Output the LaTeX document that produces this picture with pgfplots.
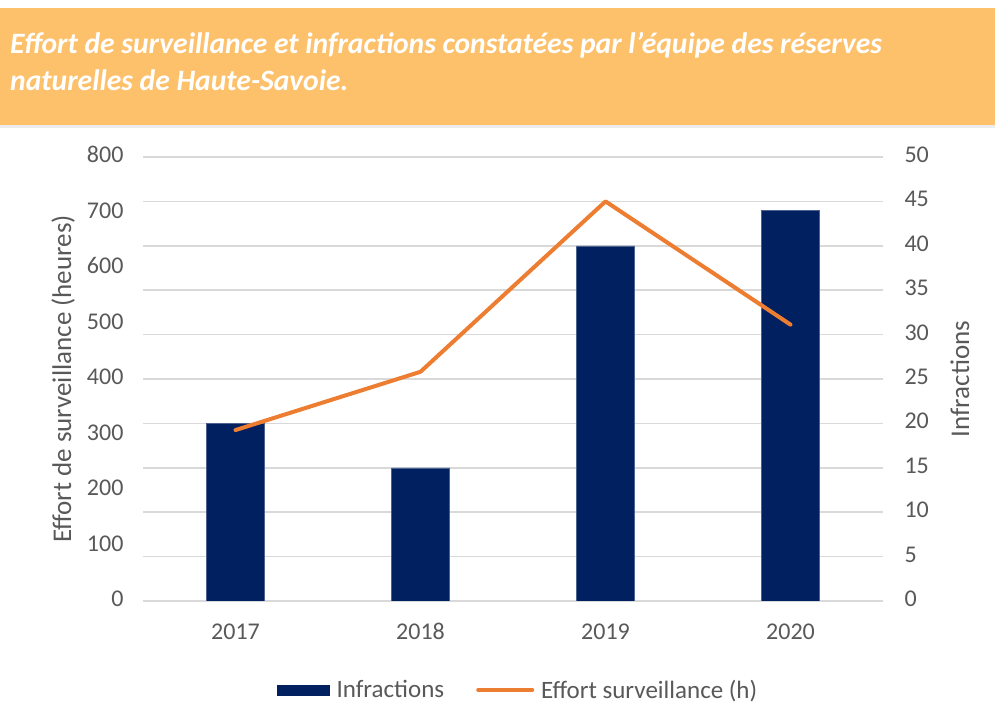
\documentclass[border=0pt]{standalone}
\usepackage{fontspec}
\setmainfont{Carlito}
\usepackage{pgfplots}
\pgfplotsset{compat=1.18}
\definecolor{band}{HTML}{FDC06B}
\definecolor{navy}{HTML}{002060}
\definecolor{lorange}{HTML}{ED7D31}
\definecolor{txt}{HTML}{595959}
\definecolor{gridc}{HTML}{D9D9D9}
\begin{document}
\begin{tikzpicture}[x=1bp,y=1bp]
\fill[white] (0,0) rectangle (995,722);
\fill[gray!15] (0,594) rectangle (995,599);
\fill[band] (0,597) rectangle (995,714);
\node[anchor=base west, inner sep=0pt, text=white, font=\fontsize{29.6bp}{34bp}\selectfont\bfseries\itshape] at (10,668) {Effort de surveillance et infractions constatées par l’équipe des réserves};
\node[anchor=base west, inner sep=0pt, text=white, font=\fontsize{29.6bp}{34bp}\selectfont\bfseries\itshape] at (10,631) {naturelles de Haute-Savoie.};
\pgfplotsset{
  common/.style={
    at={(143bp,121bp)}, anchor=south west,
    scale only axis, width=740bp, height=444bp,
    xmin=-0.5, xmax=3.5,
    xtick={0,1,2,3},
    axis line style={draw=none},
    major tick length=0pt,
    tick label style={font=\fontsize{24bp}{28bp}\selectfont, text=txt},
    typeset ticklabels with strut,
    label style={font=\fontsize{27bp}{32bp}\selectfont, text=txt},
    /pgf/number format/assume math mode=true,
  }
}
\begin{axis}[common,
  axis y line*=right, axis x line*=bottom,
  ymin=0, ymax=50, ytick={0,5,...,50},
  ymajorgrids, grid style={gridc, line width=1.5bp},
  xticklabels={2017,2018,2019,2020},
  xticklabel style={yshift=-15bp},
  yticklabel style={xshift=18bp},
  ylabel={Infractions},
  ylabel style={at={(axis description cs:1.104,0.5)}, anchor=center},
]
\addplot[ybar, bar width=58bp, fill=navy, draw=navy!70!white, line width=0.5bp] coordinates {(0,20) (1,15) (2,40) (3,44)};
\end{axis}
\begin{axis}[common,
  axis y line*=left, axis x line=none,
  ymin=0, ymax=800, ytick={0,100,...,800},
  yticklabel style={xshift=-16bp},
  ylabel={Effort de surveillance (heures)},
  ylabel style={at={(axis description cs:-0.108,0.5)}, anchor=center},
  legend style={at={(0.507,-0.2)}, anchor=center, draw=none, fill=none,
    legend columns=2, font=\fontsize{25bp}{29bp}\selectfont, text=txt,
    /tikz/every odd column/.append style={column sep=5bp},
    /tikz/every even column/.append style={column sep=30bp}},
  legend image code/.code={},
]
\addlegendimage{legend image code/.code={\fill[navy] (0bp,-5bp) rectangle (52bp,5bp);}}
\addlegendentry{Infractions}
\addplot[lorange, line width=4bp, line join=round, line cap=round, mark=none,
  legend image code/.code={\draw[lorange, line width=4bp, line cap=round] (0bp,0bp) -- (54bp,0bp);}]
  coordinates {(0,308) (1,413) (2,720) (3,498)};
\addlegendentry{Effort surveillance (h)}
\end{axis}
\end{tikzpicture}
\end{document}
